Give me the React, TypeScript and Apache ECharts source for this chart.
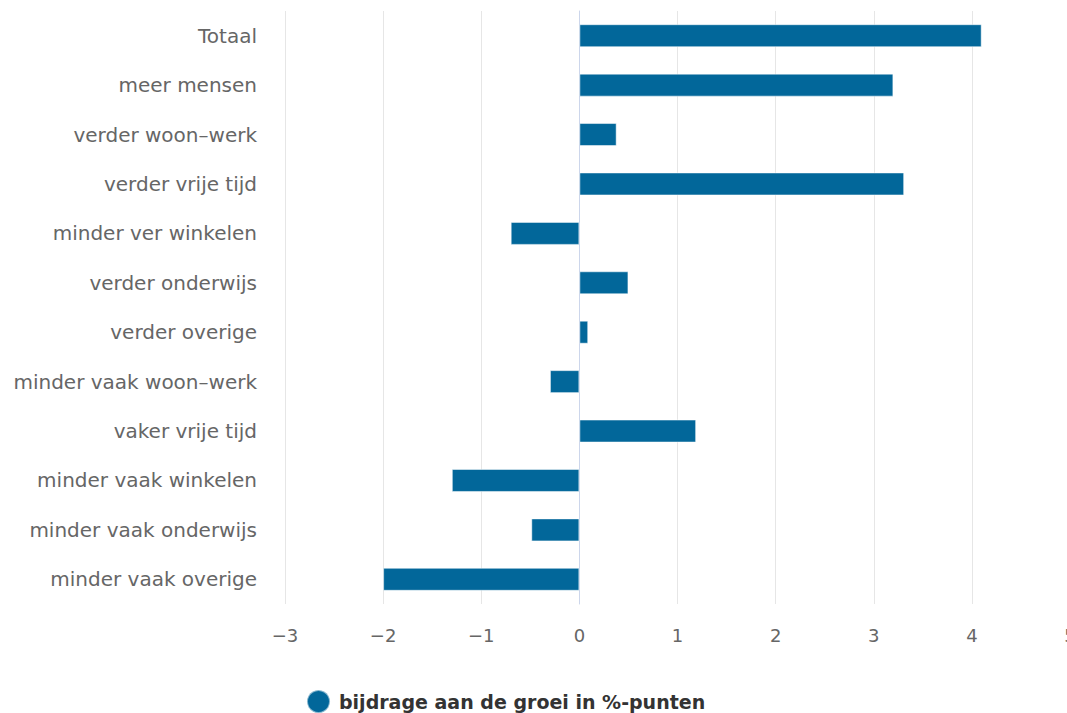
import React, { useEffect, useRef } from "react";
import * as echarts from "echarts";

const categories = [
  "Totaal",
  "meer mensen",
  "verder woon–werk",
  "verder vrije tijd",
  "minder ver winkelen",
  "verder onderwijs",
  "verder overige",
  "minder vaak woon–werk",
  "vaker vrije tijd",
  "minder vaak winkelen",
  "minder vaak onderwijs",
  "minder vaak overige",
];

const values = [4.1, 3.2, 0.38, 3.31, -0.7, 0.5, 0.09, -0.3, 1.19, -1.3, -0.49, -2.0];

const seriesName = "bijdrage aan de groei in %-punten";

export default function App() {
  const ref = useRef<HTMLDivElement>(null);
  useEffect(() => {
    if (!ref.current) return;
    const chart = echarts.init(ref.current, undefined, { renderer: "svg" });
    chart.setOption({
      animation: false,
      backgroundColor: "#ffffff",
      grid: { left: 285, top: 11, width: 785, height: 593, containLabel: false },
      legend: {
        data: [seriesName],
        left: 306,
        top: 689,
        padding: 0,
        icon: "circle",
        itemWidth: 23,
        itemHeight: 23,
        itemGap: 8,
        textStyle: {
          fontFamily: "DejaVu Sans",
          fontWeight: "bold",
          fontSize: 19,
          color: "#333333",
          padding: [0, 0, 0, 4],
        },
      },
      xAxis: {
        type: "value",
        min: -3,
        max: 5,
        interval: 1,
        axisLine: { show: false },
        axisTick: { show: false },
        splitLine: { show: true, lineStyle: { color: "#e6e6e6", width: 1 } },
        axisLabel: {
          margin: 22,
          fontFamily: "DejaVu Sans",
          fontSize: 18,
          color: "#666666",
          formatter: (v: number) => (v < 0 ? "\u2212" + Math.abs(v) : String(v)),
        },
      },
      yAxis: {
        type: "category",
        data: categories,
        inverse: true,
        axisLine: { show: true, lineStyle: { color: "#ccd6eb", width: 1 } },
        axisTick: { show: false },
        splitLine: { show: false },
        axisLabel: {
          margin: 28,
          fontFamily: "DejaVu Sans",
          fontSize: 20,
          color: "#666666",
          padding: [0, 0, 6, 0],
        },
      },
      series: [
        {
          name: seriesName,
          type: "bar",
          data: values,
          barWidth: 23,
          itemStyle: {
            color: "#02679a",
            borderColor: "rgba(255,255,255,0.5)",
            borderWidth: 1,
          },
        },
      ],
    });
    return () => chart.dispose();
  }, []);
  return (
    <div
      style={{
        position: "fixed",
        left: 0,
        top: 0,
        width: 1067,
        height: 713,
        overflow: "hidden",
        background: "#fff",
      }}
    >
      <div ref={ref} style={{ width: 1090, height: 713 }} />
    </div>
  );
}
